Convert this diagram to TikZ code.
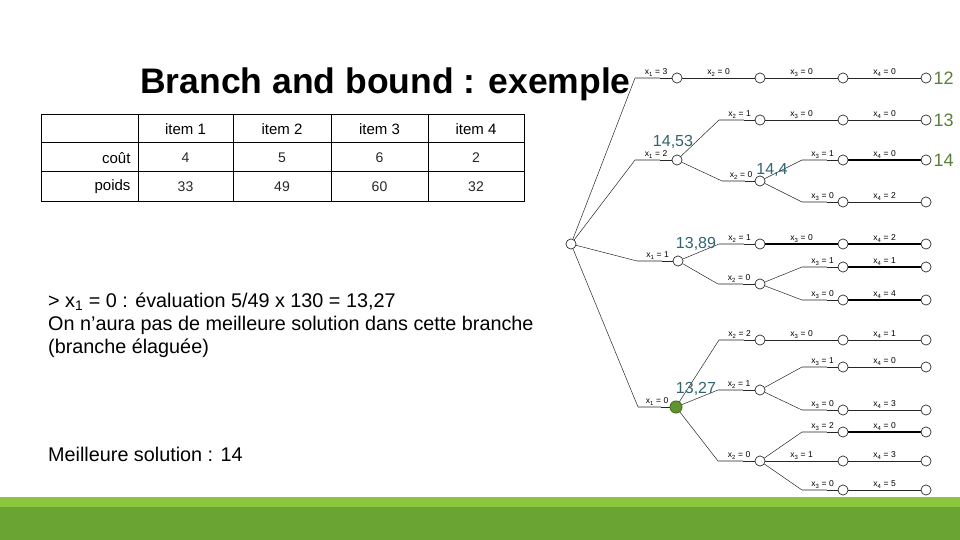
\documentclass[tikz,border=0pt]{standalone}
\usepackage{fontspec}
\setmainfont{Liberation Sans}
\usetikzlibrary{calc}
\definecolor{valc}{HTML}{5B7F3A}
\definecolor{bndc}{HTML}{2F6470}
\definecolor{barA}{HTML}{8CC63F}
\definecolor{barB}{HTML}{6AA433}
\begin{document}
\begin{tikzpicture}[x=1pt,y=-1pt,
 nd/.style={circle,draw=black!80,fill=white,inner sep=0pt,minimum size=10pt,line width=0.6pt},
 lab/.style={font=\fontsize{8.5}{9}\selectfont,inner sep=1.5pt,anchor=south},
 val/.style={font=\fontsize{18}{20}\selectfont,text=valc,anchor=west,inner sep=2pt},
 bnd/.style={font=\fontsize{16}{18}\selectfont,text=bndc,inner sep=0pt},
 cell/.style={font=\fontsize{15}{17}\selectfont},
 num/.style={font=\fontsize{14}{17}\selectfont,text=black!85},
 ln/.style={black!85,line width=0.5pt},
 thick4/.style={black,line width=1.6pt}]
\useasboundingbox (0,0) rectangle (960,540);
\fill[barA] (0,497) rectangle (960,540);
\fill[barB] (0,507) rectangle (960,540);
\node[font=\bfseries\fontsize{35.5}{40}\selectfont,anchor=west,inner sep=0pt] (title) at (140,84) {Branch and bound : exemple};
% table
\draw[line width=1pt] (41,115) rectangle (524,201);
\foreach \y in {143,172} \draw[line width=1pt] (41,\y) -- (524,\y);
\foreach \x in {138,233,331,428} \draw[line width=1pt] (\x,115) -- (\x,201);
\foreach \t/\x in {item 1/185.5,item 2/282,item 3/379.5,item 4/476}
 \node[cell] at (\x,129.5) {\t};
\node[cell,anchor=east] at (134,158) {coût};
\node[cell,anchor=east] at (134,187) {poids};
\foreach \t/\x in {4/185.5,5/282,6/379.5,2/476} \node[num] at (\x,158) {\t};
\foreach \t/\x in {33/185.5,49/282,60/379.5,32/476} \node[num] at (\x,187) {\t};
\node[font=\fontsize{19.8}{23}\selectfont,anchor=north west,align=left,inner sep=0pt] (txt) at (48,293)
 {> x\textsubscript{1} = 0 : évaluation 5/49 x 130 = 13,27\\On n’aura pas de meilleure solution dans cette branche\\(branche élaguée)};
\node[font=\fontsize{19.8}{23}\selectfont,anchor=west,inner sep=0pt] (best) at (48,454) {Meilleure solution : 14};
% tree nodes
\node[nd] (r) at (571,244) {};
\node[nd] (a3) at (677,78) {};
\node[nd] (a2) at (677,160) {};
\node[nd] (a1) at (678,261) {};
\foreach \n/\y in {b1/78,b2/120,b3/181,b4/244,b5/284,b6/340,b7/390,b8/461}
 \node[nd] (\n) at (760,\y) {};
\foreach \n/\y in {c1/78,c2/120,c3/160,c4/202,c5/244,c6/267,c7/300,c8/340,c9/367,c10/410,c11/432,c12/461,c13/490}
 {\node[nd] (\n) at (843,\y) {}; \node[nd] (d\n) at (926,\y) {};}
\newcommand{\kedge}[5]{%
 \draw[ln] (#1) -- (#3,0 |- #2);
 \draw[black!30,line width=1.2pt] (#3,0 |- #2) -- ($(#3,0 |- #2)!0.6!(#2)$);
 \draw[#5] ($(#3,0 |- #2)!0.6!(#2)$) -- (#2);
 \node[lab] at ($(#3,0 |- #2)!0.5!(#2)$) {#4};}
\newcommand{\dedge}[4]{%
 \draw[#4] (#1) -- (#2);
 \node[lab] at ($(#1)!0.5!(#2)$) {#3};}
\kedge{r}{a3}{635}{x\textsubscript{1} = 3}{ln}
\kedge{r}{a2}{635}{x\textsubscript{1} = 2}{ln}
\kedge{r}{a1}{637}{x\textsubscript{1} = 1}{ln}
\coordinate (a0) at (676,407);
\kedge{r}{a0}{638}{x\textsubscript{1} = 0}{ln}
\dedge{a3}{b1}{x\textsubscript{2} = 0}{ln}
\kedge{a2}{b2}{719}{x\textsubscript{2} = 1}{ln}
\kedge{a2}{b3}{722}{x\textsubscript{2} = 0}{ln}
\kedge{a1}{b4}{719}{x\textsubscript{2} = 1}{ln}
\kedge{a1}{b5}{718}{x\textsubscript{2} = 0}{ln}
\kedge{a0}{b6}{719}{x\textsubscript{2} = 2}{ln}
\kedge{a0}{b7}{718}{x\textsubscript{2} = 1}{ln}
\kedge{a0}{b8}{718}{x\textsubscript{2} = 0}{ln}
\dedge{b1}{c1}{x\textsubscript{3} = 0}{ln}
\dedge{b2}{c2}{x\textsubscript{3} = 0}{ln}
\kedge{b3}{c3}{802}{x\textsubscript{3} = 1}{ln}
\kedge{b3}{c4}{802}{x\textsubscript{3} = 0}{ln}
\dedge{b4}{c5}{x\textsubscript{3} = 0}{thick4}
\kedge{b5}{c6}{802}{x\textsubscript{3} = 1}{ln}
\kedge{b5}{c7}{802}{x\textsubscript{3} = 0}{ln}
\dedge{b6}{c8}{x\textsubscript{3} = 0}{ln}
\kedge{b7}{c9}{802}{x\textsubscript{3} = 1}{ln}
\kedge{b7}{c10}{802}{x\textsubscript{3} = 0}{ln}
\kedge{b8}{c11}{802}{x\textsubscript{3} = 2}{ln}
\dedge{b8}{c12}{x\textsubscript{3} = 1}{ln}
\kedge{b8}{c13}{802}{x\textsubscript{3} = 0}{ln}
\foreach \i/\v/\s in {1/0/ln,2/0/ln,3/0/thick4,4/2/ln,5/2/thick4,6/1/thick4,7/4/thick4,8/1/ln,9/0/ln,10/3/ln,11/0/thick4,12/3/ln,13/5/ln}
 {\draw[\s] (c\i) -- (dc\i); \node[lab] at ($(c\i)!0.5!(dc\i)$) {x\textsubscript{4} = \v};}
% redraw nodes on top
\foreach \n in {r,a3,a2,a1,b1,b2,b3,b4,b5,b6,b7,b8} \node[nd] at (\n) {};
\foreach \i in {1,...,13} {\node[nd] at (c\i) {}; \node[nd] at (dc\i) {};}
\node[circle,fill=barB!90!black,draw=barB!70!black,inner sep=0pt,minimum size=12pt,line width=1pt] (a0n) at (a0) {};
% values
\node[val] (v12) at (dc1.east) {12};
\node[val] (v13) at (dc2.east) {13};
\node[val] (v14) at (dc3.east) {14};
\node[bnd] (p1) at (673,142) {14,53};
\node[bnd] (p2) at (772,170) {14,4};
\node[bnd] (p3) at (696,244) {13,89};
\node[bnd] (p4) at (696,389) {13,27};
\end{tikzpicture}
\end{document}
